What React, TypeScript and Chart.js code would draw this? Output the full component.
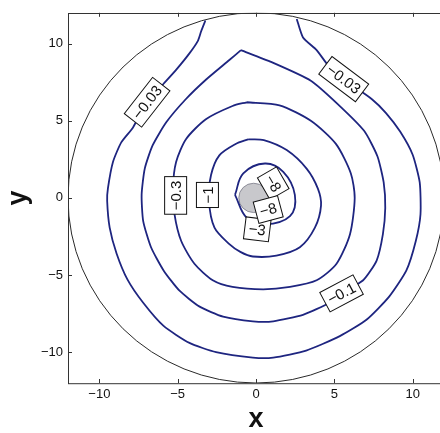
import React, { useEffect, useRef } from "react";
import { Chart, registerables } from "chart.js";

Chart.register(...registerables);

// ---- axes ----
const xTicks = [-10, -5, 0, 5, 10];
const xTickLabels = ["\u221210", "\u22125", "0", "5", "10"];
const yTicks = [-10, -5, 0, 5, 10];
const yTickLabels = ["\u221210", "\u22125", "0", "5", "10"];
const axisRange = [-12, 12];

// ---- domain boundary and shaded core ----
const domainRadius = 12;
const coreCenterX = -0.15;
const coreCenterY = 0;
const coreRadius = 0.95;

// ---- contour lines ----
const c003X = [-3.23, -3.5, -3.7, -4.25, -5.1, -5.9, -7.0, -7.85, -8.6, -9.13, -9.45, -9.5, -9.34, -8.9, -8.2, -7.2, -5.9, -4.25, -2.55, -0.2, 1.1, 3.2, 5.35, 7.05, 8.5, 9.6, 10.2, 10.5, 10.45, 10.0, 9.2, 8.3, 7.4, 5.6, 4.6, 3.87, 3.0, 2.6];
const c003Y = [11.5, 10.8, 10.2, 9.37, 8.3, 7.4, 6.17, 4.57, 3.6, 2.33, 0.63, -0.2, -1.93, -3.6, -5.3, -6.8, -8.3, -9.4, -10.0, -10.35, -10.35, -9.9, -8.96, -7.9, -6.4, -4.7, -2.8, -1.06, 1.0, 2.8, 4.3, 5.5, 6.4, 7.7, 8.6, 9.58, 10.4, 11.6];

const c01X = [-0.96, -1.7, -3.2, -4.5, -5.73, -6.6, -7.1, -7.3, -7.2, -6.7, -5.9, -4.9, -3.6, -2.1, -0.2, 1.1, 3.0, 4.7, 5.46, 6.84, 7.7, 8.1, 8.25, 8.15, 7.75, 6.9, 5.2, 3.5, 1.0, -0.96];
const c01Y = [9.58, 8.94, 7.66, 6.38, 4.9, 3.4, 1.9, 0.2, -1.5, -3.2, -4.7, -6.0, -7.05, -7.7, -8.0, -8.0, -7.58, -6.8, -6.19, -5.34, -4.06, -2.35, -0.65, 1.0, 2.7, 4.35, 6.1, 7.6, 8.8, 9.58];

const c03X = [-0.6, 1.5, 3.5, 5.1, 6.05, 6.3, 6.0, 5.14, 3.87, 2.17, 0.46, -1.5, -2.76, -3.93, -4.78, -5.2, -5.3, -5.1, -4.46, -3.2, -1.5, -0.6];
const c03Y = [6.2, 6.0, 5.0, 3.5, 1.6, 0, -2.35, -4.27, -5.34, -5.77, -5.93, -5.77, -5.34, -4.27, -2.78, -1.07, 0.63, 2.33, 3.82, 5.1, 5.96, 6.2];

const c1X = [-0.5, 0.5, 1.96, 3.23, 3.95, 4.15, 3.76, 2.8, 1.3, -0.2, -1.0, -1.7, -2.65, -3.0, -2.87, -2.34, -1.3, -0.5];
const c1Y = [3.8, 3.75, 3.1, 1.9, 0.6, -0.5, -1.93, -3.2, -3.74, -3.8, -3.5, -3.0, -1.93, -0.2, 1.48, 2.76, 3.5, 3.8];

const c3X = [-1.34, -0.81, 0.57, 1.74, 2.48, 2.17, 0.57, -0.59, -1.34];
const c3Y = [0.2, 1.59, 2.23, 1.69, 0.2, -1.18, -1.71, -1.29, 0.2];

// ---- contour labels ----
const labelText = ["\u22120.03", "\u22120.03", "\u22120.1", "\u22120.3", "\u22121", "\u22123", "\u22128", "\u22128"];
const labelX = [-6.95, 5.6, 5.46, -5.13, -3.1, 0.08, 1.1, 0.78];
const labelY = [6.2, 7.7, -6.19, 0.16, 0.19, -2.04, 0.95, -0.75];
const labelAngle = [-52, 37, -28, -90, -90, 7, 60, -15];

const LINE = "#1e2580";
const FONT = "'Liberation Sans', Arial, Helvetica, sans-serif";

function pts(xs: number[], ys: number[]) {
  return xs.map((x, i) => ({ x, y: ys[i] }));
}

const decor = {
  id: "decor",
  beforeDatasetsDraw(chart: any) {
    const { ctx, chartArea: a, scales } = chart;
    const x = scales.x, y = scales.y;
    ctx.save();
    ctx.beginPath();
    ctx.rect(a.left, a.top, a.right - a.left, a.bottom - a.top);
    ctx.clip();
    const cx = x.getPixelForValue(0), cy = y.getPixelForValue(0);
    const rx = x.getPixelForValue(domainRadius) - cx;
    const ry = cy - y.getPixelForValue(domainRadius);
    ctx.beginPath();
    ctx.ellipse(cx, cy, rx, ry, 0, 0, Math.PI * 2);
    ctx.strokeStyle = "#2a2a2a";
    ctx.lineWidth = 1;
    ctx.stroke();
    const gx = x.getPixelForValue(coreCenterX), gy = y.getPixelForValue(coreCenterY);
    const grx = x.getPixelForValue(coreCenterX + coreRadius) - gx;
    const gry = gy - y.getPixelForValue(coreCenterY + coreRadius);
    ctx.beginPath();
    ctx.ellipse(gx, gy, grx, gry, 0, 0, Math.PI * 2);
    ctx.fillStyle = "#c8c8cc";
    ctx.fill();
    ctx.strokeStyle = "#7a7a88";
    ctx.lineWidth = 0.8;
    ctx.stroke();
    ctx.restore();
  },
  afterDatasetsDraw(chart: any) {
    const { ctx, scales } = chart;
    const x = scales.x, y = scales.y;
    ctx.save();
    ctx.font = `15px ${FONT}`;
    labelText.forEach((t, i) => {
      const px = x.getPixelForValue(labelX[i]);
      const py = y.getPixelForValue(labelY[i]);
      ctx.save();
      ctx.translate(px, py);
      ctx.rotate((labelAngle[i] * Math.PI) / 180);
      const w = ctx.measureText(t).width + 8;
      const h = 22;
      ctx.fillStyle = "#ffffff";
      ctx.fillRect(-w / 2, -h / 2, w, h);
      ctx.strokeStyle = "#111";
      ctx.lineWidth = 1;
      ctx.strokeRect(-w / 2, -h / 2, w, h);
      ctx.fillStyle = "#111";
      ctx.textAlign = "center";
      ctx.textBaseline = "middle";
      ctx.fillText(t, 0, 1);
      ctx.restore();
    });
    ctx.restore();
  },
  afterDraw(chart: any) {
    const { ctx, chartArea: a, scales } = chart;
    const x = scales.x, y = scales.y;
    ctx.save();
    ctx.strokeStyle = "#333";
    ctx.lineWidth = 1;
    ctx.strokeRect(Math.round(a.left) + 0.5, Math.round(a.top) + 0.5, a.right - a.left, a.bottom - a.top);
    ctx.beginPath();
    xTicks.forEach((v) => {
      const p = Math.round(x.getPixelForValue(v)) + 0.5;
      ctx.moveTo(p, a.bottom);
      ctx.lineTo(p, a.bottom - 4);
      ctx.moveTo(p, a.top);
      ctx.lineTo(p, a.top + 4);
    });
    yTicks.forEach((v) => {
      const p = Math.round(y.getPixelForValue(v)) + 0.5;
      ctx.moveTo(a.left, p);
      ctx.lineTo(a.left + 4, p);
      ctx.moveTo(a.right, p);
      ctx.lineTo(a.right - 4, p);
    });
    ctx.stroke();
    ctx.restore();
  },
};

export default function App() {
  const ref = useRef<HTMLCanvasElement | null>(null);
  useEffect(() => {
    if (!ref.current) return;
    const line = (d: any[], tension: number) => ({
      data: d,
      showLine: true,
      borderColor: LINE,
      borderWidth: 1.8,
      pointRadius: 0,
      tension,
      fill: false,
    });
    const chart = new Chart(ref.current, {
      type: "scatter",
      data: {
        datasets: [
          line(pts(c003X, c003Y), 0.2),
          line(pts(c01X, c01Y), 0.2),
          line(pts(c03X, c03Y), 0.25),
          line(pts(c1X, c1Y), 0.3),
          line(pts(c3X, c3Y), 0.4),
        ],
      },
      options: {
        animation: false,
        responsive: false,
        devicePixelRatio: 1,
        layout: { padding: { top: 8, right: 16, bottom: 0, left: 0 } },
        plugins: { legend: { display: false }, tooltip: { enabled: false } },
        scales: {
          x: {
            type: "linear",
            min: axisRange[0],
            max: axisRange[1],
            grid: { display: false, drawTicks: false },
            border: { display: false },
            afterBuildTicks: (s: any) => {
              s.ticks = xTicks.map((v) => ({ value: v }));
            },
            afterFit: (s: any) => {
              s.height = 50;
            },
            ticks: {
              padding: 4,
              color: "#111",
              font: { size: 13, family: FONT },
              callback: (v: any) => xTickLabels[xTicks.indexOf(Number(v))] ?? "",
            },
            title: {
              display: true,
              text: "x",
              color: "#111",
              font: { size: 27, weight: "bold", family: FONT, lineHeight: 1 },
              padding: { top: 0, bottom: 0 },
            },
          },
          y: {
            type: "linear",
            min: axisRange[0],
            max: axisRange[1],
            grid: { display: false, drawTicks: false },
            border: { display: false },
            afterBuildTicks: (s: any) => {
              s.ticks = yTicks.map((v) => ({ value: v }));
            },
            afterFit: (s: any) => {
              s.width = 68;
            },
            ticks: {
              padding: 5,
              color: "#111",
              font: { size: 13, family: FONT },
              callback: (v: any) => yTickLabels[yTicks.indexOf(Number(v))] ?? "",
            },
            title: {
              display: true,
              text: "y",
              color: "#111",
              font: { size: 27, weight: "bold", family: FONT, lineHeight: 1 },
              padding: { top: 5.5, bottom: 0 },
            },
          },
        },
      },
      plugins: [decor],
    } as any);
    return () => chart.destroy();
  }, []);
  return (
    <div style={{ position: "fixed", left: 0, top: 0, width: 440, height: 433, overflow: "hidden", background: "#fff" }}>
      <canvas ref={ref} width={460} height={433} style={{ display: "block", width: 460, height: 433 }} />
    </div>
  );
}
